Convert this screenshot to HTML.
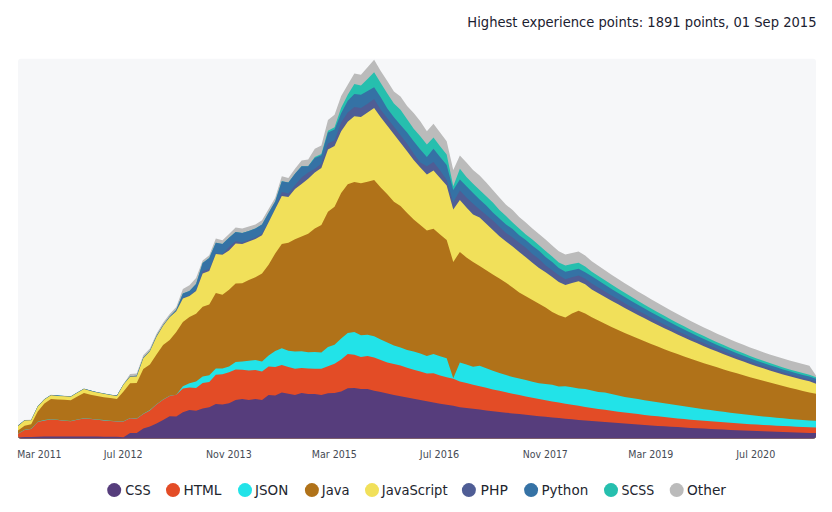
<!DOCTYPE html>
<html><head><meta charset="utf-8"><style>
html,body{margin:0;padding:0;background:#fff;}
svg{display:block;font-family:"DejaVu Sans","Liberation Sans",sans-serif;font-stretch:condensed;}
</style></head><body>
<svg width="832" height="512" viewBox="0 0 832 512">
<defs><clipPath id="c"><rect x="18" y="58.7" width="798" height="379.9" rx="3" ry="3"/></clipPath></defs>
<rect x="18" y="58.7" width="798" height="379.9" rx="3" ry="3" fill="#f6f7f9"/>
<g clip-path="url(#c)">
<polygon points="18.00,440.6 18.00,425.40 24.60,420.00 31.19,419.75 37.79,406.00 44.38,399.00 50.98,394.75 57.57,395.40 64.17,395.75 70.76,396.25 77.36,392.25 83.95,388.50 90.55,390.40 97.14,392.00 103.74,393.25 110.33,394.50 116.93,395.40 123.52,384.00 130.12,373.88 136.71,373.45 143.31,355.25 149.90,348.38 156.50,333.68 163.09,322.75 169.69,314.05 176.28,307.02 182.88,288.93 189.47,285.20 196.07,278.05 202.66,260.50 209.26,255.25 215.85,238.45 222.45,240.32 229.04,234.00 235.64,227.50 242.23,228.40 248.83,226.50 255.42,224.60 262.02,220.25 268.61,209.00 275.21,197.75 281.80,176.25 288.40,178.10 294.99,168.75 301.59,160.60 308.18,159.40 314.78,148.75 321.37,145.60 327.97,120.00 334.56,114.75 341.16,96.00 347.75,84.75 354.35,73.50 360.94,74.75 367.54,67.25 374.13,59.75 380.73,71.00 387.32,81.00 393.92,91.60 400.51,96.60 407.11,106.12 413.70,113.00 420.30,121.25 426.89,131.25 433.49,123.75 440.08,132.50 446.68,141.25 453.27,170.00 459.87,155.60 466.46,162.50 473.06,170.00 479.65,175.60 486.25,182.50 492.84,190.00 499.44,197.50 506.03,204.75 512.63,210.00 519.22,216.90 525.82,222.40 532.41,228.60 539.01,234.10 545.60,239.60 552.20,245.60 558.79,251.20 565.39,254.60 571.98,253.00 578.58,251.40 585.17,255.50 591.77,261.34 598.36,265.85 604.96,270.29 611.55,274.66 618.15,278.95 624.74,283.17 631.34,287.31 637.93,291.38 644.53,295.37 651.12,299.27 657.72,303.10 664.31,306.84 670.91,310.50 677.50,314.07 684.10,317.56 690.69,320.96 697.29,324.27 703.88,327.49 710.48,330.61 717.07,333.65 723.67,336.59 730.26,339.44 736.86,342.19 743.45,344.84 750.05,347.39 756.64,349.84 763.24,352.19 769.83,354.44 776.43,356.58 783.02,358.61 789.62,360.54 796.21,362.37 802.81,364.08 809.40,365.68 816.00,375.60 816.00,440.6" fill="#bbbbbb"/>
<polygon points="18.00,440.6 18.00,425.55 24.60,420.15 31.19,419.90 37.79,406.15 44.38,399.15 50.98,394.90 57.57,395.55 64.17,395.90 70.76,396.40 77.36,392.40 83.95,388.65 90.55,390.55 97.14,392.15 103.74,393.40 110.33,394.65 116.93,395.55 123.52,384.15 130.12,376.27 136.71,375.85 143.31,357.65 149.90,350.77 156.50,336.07 163.09,325.15 169.69,316.40 176.28,309.80 182.88,293.55 189.47,290.90 196.07,283.90 202.66,263.00 209.26,258.00 215.85,242.75 222.45,244.00 229.04,237.75 235.64,232.10 242.23,233.00 248.83,230.90 255.42,228.40 262.02,224.60 268.61,212.75 275.21,201.50 281.80,181.25 288.40,182.50 294.99,173.75 301.59,166.25 308.18,166.25 314.78,156.90 321.37,154.10 327.97,130.70 334.56,127.20 341.16,107.70 347.75,94.75 354.35,84.10 360.94,85.40 367.54,79.10 374.13,72.25 380.73,82.90 387.32,93.50 393.92,103.50 400.51,109.75 407.11,119.25 413.70,128.75 420.30,136.25 426.89,144.40 433.49,137.50 440.08,146.25 446.68,154.40 453.27,186.25 459.87,168.75 466.46,176.90 473.06,183.75 479.65,190.00 486.25,196.25 492.84,202.50 499.44,210.00 506.03,216.12 512.63,222.50 519.22,228.60 525.82,234.50 532.41,239.60 539.01,245.30 545.60,251.10 552.20,256.50 558.79,262.40 565.39,265.50 571.98,264.10 578.58,262.80 585.17,266.50 591.77,271.73 598.36,276.08 604.96,280.37 611.55,284.60 618.15,288.75 624.74,292.84 631.34,296.85 637.93,300.79 644.53,304.67 651.12,308.46 657.72,312.19 664.31,315.83 670.91,319.41 677.50,322.90 684.10,326.31 690.69,329.65 697.29,332.90 703.88,336.07 710.48,339.16 717.07,342.17 723.67,345.09 730.26,347.92 736.86,350.67 743.45,353.33 750.05,355.90 756.64,358.38 763.24,360.77 769.83,363.07 776.43,365.27 783.02,367.38 789.62,369.39 796.21,371.31 802.81,373.12 809.40,374.84 816.00,377.25 816.00,440.6" fill="#26bfae"/>
<polygon points="18.00,440.6 18.00,425.55 24.60,420.15 31.19,419.90 37.79,406.15 44.38,399.15 50.98,394.90 57.57,395.55 64.17,395.90 70.76,396.40 77.36,392.40 83.95,388.65 90.55,390.55 97.14,392.15 103.74,393.40 110.33,394.65 116.93,395.55 123.52,384.15 130.12,376.27 136.71,375.85 143.31,357.65 149.90,350.77 156.50,336.07 163.09,325.15 169.69,316.40 176.28,309.80 182.88,293.55 189.47,290.90 196.07,283.90 202.66,263.00 209.26,258.00 215.85,242.75 222.45,244.00 229.04,237.75 235.64,232.10 242.23,233.00 248.83,230.90 255.42,228.40 262.02,224.60 268.61,212.75 275.21,201.50 281.80,181.25 288.40,182.50 294.99,173.75 301.59,166.25 308.18,166.25 314.78,158.00 321.37,155.30 327.97,132.60 334.56,129.50 341.16,113.20 347.75,100.70 354.35,94.10 360.94,94.75 367.54,91.00 374.13,87.25 380.73,97.25 387.32,108.50 393.92,117.25 400.51,124.88 407.11,132.50 413.70,141.25 420.30,149.40 426.89,156.90 433.49,148.75 440.08,156.90 446.68,165.00 453.27,190.00 459.87,179.40 466.46,186.25 473.06,193.10 479.65,199.40 486.25,205.60 492.84,212.50 499.44,218.45 506.03,224.40 512.63,229.00 519.22,235.30 525.82,240.00 532.41,245.80 539.01,250.80 545.60,256.90 552.20,262.00 558.79,267.90 565.39,271.80 571.98,270.20 578.58,268.80 585.17,272.20 591.77,276.37 598.36,280.62 604.96,284.81 611.55,288.93 618.15,292.98 624.74,296.96 631.34,300.88 637.93,304.72 644.53,308.49 651.12,312.19 657.72,315.82 664.31,319.37 670.91,322.85 677.50,326.25 684.10,329.57 690.69,332.82 697.29,335.98 703.88,339.07 710.48,342.07 717.07,344.99 723.67,347.82 730.26,350.57 736.86,353.24 743.45,355.82 750.05,358.30 756.64,360.70 763.24,363.01 769.83,365.23 776.43,367.36 783.02,369.39 789.62,371.32 796.21,373.17 802.81,374.91 809.40,376.56 816.00,378.75 816.00,440.6" fill="#3572a5"/>
<polygon points="18.00,440.6 18.00,425.80 24.60,420.40 31.19,420.15 37.79,406.40 44.38,399.40 50.98,395.15 57.57,395.80 64.17,396.15 70.76,396.65 77.36,392.65 83.95,388.90 90.55,390.80 97.14,392.40 103.74,393.65 110.33,394.90 116.93,395.80 123.52,384.40 130.12,376.67 136.71,376.25 143.31,358.05 149.90,351.17 156.50,336.47 163.09,325.55 169.69,316.90 176.28,310.40 182.88,298.12 189.47,295.60 196.07,290.20 202.66,271.12 209.26,268.95 215.85,253.50 222.45,254.10 229.04,246.88 235.64,241.25 242.23,242.50 248.83,240.00 255.42,237.50 262.02,233.40 268.61,221.50 275.21,209.00 281.80,192.10 288.40,193.40 294.99,185.25 301.59,177.50 308.18,172.50 314.78,168.75 321.37,163.75 327.97,143.60 334.56,140.50 341.16,122.60 347.75,112.40 354.35,106.90 360.94,108.10 367.54,103.80 374.13,99.10 380.73,109.75 387.32,118.25 393.92,126.75 400.51,135.25 407.11,143.75 413.70,153.75 420.30,162.50 426.89,166.25 433.49,161.90 440.08,170.60 446.68,180.00 453.27,202.50 459.87,190.60 466.46,197.50 473.06,203.75 479.65,209.40 486.25,215.00 492.84,220.60 499.44,226.75 506.03,232.90 512.63,237.60 519.22,242.70 525.82,247.80 532.41,254.00 539.01,259.00 545.60,265.50 552.20,270.20 558.79,275.30 565.39,279.20 571.98,277.25 578.58,275.50 585.17,278.80 591.77,283.41 598.36,287.50 604.96,291.52 611.55,295.47 618.15,299.34 624.74,303.15 631.34,306.88 637.93,310.54 644.53,314.12 651.12,317.64 657.72,321.07 664.31,324.44 670.91,327.73 677.50,330.95 684.10,334.09 690.69,337.16 697.29,340.15 703.88,343.07 710.48,345.92 717.07,348.69 723.67,351.38 730.26,354.00 736.86,356.54 743.45,359.01 750.05,361.40 756.64,363.71 763.24,365.95 769.83,368.11 776.43,370.19 783.02,372.20 789.62,374.13 796.21,375.98 802.81,377.75 809.40,379.45 816.00,381.25 816.00,440.6" fill="#4f5d95"/>
<polygon points="18.00,440.6 18.00,425.90 24.60,420.50 31.19,420.25 37.79,406.50 44.38,399.50 50.98,395.25 57.57,395.90 64.17,396.25 70.76,396.75 77.36,392.75 83.95,389.00 90.55,390.90 97.14,392.50 103.74,393.75 110.33,395.00 116.93,395.90 123.52,384.50 130.12,376.87 136.71,376.45 143.31,358.25 149.90,351.37 156.50,336.67 163.09,325.75 169.69,317.20 176.28,311.20 182.88,298.50 189.47,296.00 196.07,291.00 202.66,273.45 209.26,270.95 215.85,254.10 222.45,254.75 229.04,250.40 235.64,243.43 242.23,244.10 248.83,241.55 255.42,239.00 262.02,235.25 268.61,222.13 275.21,209.02 281.80,195.90 288.40,197.10 294.99,189.00 301.59,183.88 308.18,178.75 314.78,172.50 321.37,168.10 327.97,149.40 334.56,145.90 341.16,131.20 347.75,121.80 354.35,116.20 360.94,116.90 367.54,112.40 374.13,107.90 380.73,117.25 387.32,125.75 393.92,134.25 400.51,142.75 407.11,151.25 413.70,160.00 420.30,167.50 426.89,174.40 433.49,170.60 440.08,178.10 446.68,185.60 453.27,209.40 459.87,200.00 466.46,207.50 473.06,214.40 479.65,217.50 486.25,223.75 492.84,230.00 499.44,236.25 506.03,241.50 512.63,246.60 519.22,252.10 525.82,257.20 532.41,262.80 539.01,267.90 545.60,272.20 552.20,276.90 558.79,281.90 565.39,285.10 571.98,282.90 578.58,281.20 585.17,284.30 591.77,289.53 598.36,293.32 604.96,297.05 611.55,300.74 618.15,304.37 624.74,307.94 631.34,311.46 637.93,314.92 644.53,318.32 651.12,321.66 657.72,324.94 664.31,328.16 670.91,331.32 677.50,334.41 684.10,337.44 690.69,340.40 697.29,343.30 703.88,346.13 710.48,348.89 717.07,351.58 723.67,354.20 730.26,356.75 736.86,359.22 743.45,361.62 750.05,363.95 756.64,366.20 763.24,368.37 769.83,370.47 776.43,372.49 783.02,374.42 789.62,376.28 796.21,378.06 802.81,379.75 809.40,381.35 816.00,383.75 816.00,440.6" fill="#f1e05a"/>
<polygon points="18.00,440.6 18.00,430.55 24.60,425.80 31.19,424.30 37.79,411.60 44.38,403.50 50.98,399.10 57.57,399.50 64.17,399.70 70.76,400.35 77.36,396.60 83.95,393.10 90.55,394.70 97.14,396.00 103.74,397.20 110.33,398.10 116.93,399.10 123.52,391.60 130.12,383.25 136.71,382.90 143.31,368.90 149.90,364.50 156.50,354.50 163.09,345.10 169.69,340.10 176.28,332.00 182.88,322.00 189.47,317.00 196.07,313.80 202.66,306.80 209.26,304.50 215.85,293.10 222.45,294.82 229.04,289.75 235.64,283.50 242.23,283.25 248.83,280.00 255.42,277.25 262.02,273.50 268.61,264.75 275.21,253.50 281.80,243.90 288.40,242.70 294.99,239.17 301.59,236.45 308.18,233.75 314.78,228.50 321.37,224.90 327.97,211.75 334.56,206.75 341.16,193.00 347.75,184.25 354.35,182.00 360.94,183.25 367.54,181.75 374.13,179.90 380.73,187.40 387.32,194.25 393.92,201.75 400.51,206.10 407.11,213.00 413.70,219.60 420.30,225.00 426.89,230.60 433.49,228.75 440.08,234.40 446.68,240.00 453.27,261.90 459.87,251.90 466.46,257.50 473.06,261.90 479.65,266.07 486.25,270.24 492.84,274.41 499.44,278.58 506.03,282.75 512.63,287.50 519.22,292.50 525.82,296.25 532.41,300.00 539.01,303.75 545.60,307.50 552.20,311.90 558.79,315.20 565.39,317.50 571.98,313.50 578.58,310.75 585.17,313.50 591.77,317.34 598.36,320.62 604.96,323.81 611.55,326.92 618.15,329.95 624.74,332.91 631.34,335.79 637.93,338.60 644.53,341.34 651.12,344.01 657.72,346.61 664.31,349.15 670.91,351.63 677.50,354.05 684.10,356.40 690.69,358.70 697.29,360.95 703.88,363.14 710.48,365.28 717.07,367.37 723.67,369.41 730.26,371.41 736.86,373.36 743.45,375.27 750.05,377.14 756.64,378.97 763.24,380.77 769.83,382.53 776.43,384.26 783.02,385.96 789.62,387.63 796.21,389.27 802.81,390.89 809.40,392.48 816.00,393.75 816.00,440.6" fill="#b07219"/>
<polygon points="18.00,440.6 18.00,433.45 24.60,429.70 31.19,428.80 37.79,421.70 44.38,420.10 50.98,419.20 57.57,419.70 64.17,420.45 70.76,420.95 77.36,419.45 83.95,418.20 90.55,418.80 97.14,419.45 103.74,420.10 110.33,420.70 116.93,421.30 123.52,421.30 130.12,417.95 136.71,418.45 143.31,413.80 149.90,410.10 156.50,404.20 163.09,399.45 169.69,395.70 176.28,394.75 182.88,386.25 189.47,383.25 196.07,381.60 202.66,376.60 209.26,375.30 215.85,368.40 222.45,368.50 229.04,366.60 235.64,362.00 242.23,361.60 248.83,360.75 255.42,360.00 262.02,361.60 268.61,355.40 275.21,351.00 281.80,348.25 288.40,350.75 294.99,351.60 301.59,351.25 308.18,352.25 314.78,352.10 321.37,352.50 327.97,346.90 334.56,344.75 341.16,338.50 347.75,333.10 354.35,332.10 360.94,335.25 367.54,334.75 374.13,336.25 380.73,339.40 387.32,342.50 393.92,345.60 400.51,347.50 407.11,350.00 413.70,351.43 420.30,353.50 426.89,356.00 433.49,354.10 440.08,356.25 446.68,358.25 453.27,378.25 459.87,362.60 466.46,364.50 473.06,366.75 479.65,365.75 486.25,368.25 492.84,370.75 499.44,373.00 506.03,375.10 512.63,377.00 519.22,378.50 525.82,380.10 532.41,381.75 539.01,383.25 545.60,383.90 552.20,384.75 558.79,386.50 565.39,386.25 571.98,387.25 578.58,388.50 585.17,389.00 591.77,390.60 598.36,391.90 604.96,392.50 611.55,394.00 618.15,395.60 624.74,396.89 631.34,397.98 637.93,399.07 644.53,400.14 651.12,401.20 657.72,402.25 664.31,403.28 670.91,404.30 677.50,405.30 684.10,406.29 690.69,407.26 697.29,408.20 703.88,409.13 710.48,410.04 717.07,410.93 723.67,411.79 730.26,412.63 736.86,413.44 743.45,414.23 750.05,414.98 756.64,415.71 763.24,416.41 769.83,417.08 776.43,417.72 783.02,418.33 789.62,418.90 796.21,419.44 802.81,419.94 809.40,420.40 816.00,420.83 816.00,440.6" fill="#22e3e8"/>
<polygon points="18.00,440.6 18.00,433.75 24.60,430.00 31.19,429.10 37.79,422.00 44.38,420.40 50.98,419.50 57.57,420.00 64.17,420.75 70.76,421.25 77.36,419.75 83.95,418.50 90.55,419.10 97.14,419.75 103.74,420.40 110.33,421.00 116.93,421.60 123.52,421.60 130.12,418.25 136.71,418.75 143.31,414.10 149.90,410.40 156.50,404.50 163.09,399.75 169.69,396.00 176.28,394.75 182.88,388.50 189.47,387.50 196.07,388.10 202.66,382.90 209.26,382.00 215.85,374.87 222.45,374.20 229.04,372.25 235.64,369.50 242.23,369.75 248.83,370.40 255.42,370.00 262.02,371.60 268.61,366.60 275.21,367.00 281.80,365.00 288.40,367.00 294.99,368.75 301.59,367.90 308.18,368.50 314.78,368.75 321.37,368.75 327.97,366.25 334.56,363.75 341.16,359.40 347.75,354.00 354.35,354.75 360.94,356.90 367.54,356.00 374.13,357.50 380.73,360.00 387.32,362.50 393.92,364.00 400.51,365.60 407.11,367.75 413.70,369.75 420.30,371.60 426.89,373.50 433.49,373.25 440.08,375.40 446.68,377.25 453.27,378.75 459.87,381.40 466.46,383.08 473.06,384.71 479.65,386.31 486.25,387.87 492.84,389.39 499.44,390.87 506.03,392.31 512.63,393.72 519.22,395.09 525.82,396.43 532.41,397.73 539.01,398.99 545.60,400.22 552.20,401.42 558.79,402.58 565.39,403.71 571.98,404.81 578.58,405.87 585.17,406.91 591.77,407.91 598.36,408.88 604.96,409.83 611.55,410.74 618.15,411.63 624.74,412.49 631.34,413.32 637.93,414.12 644.53,414.90 651.12,415.65 657.72,416.37 664.31,417.07 670.91,417.75 677.50,418.40 684.10,419.03 690.69,419.63 697.29,420.22 703.88,420.78 710.48,421.32 717.07,421.84 723.67,422.34 730.26,422.82 736.86,423.28 743.45,423.72 750.05,424.15 756.64,424.55 763.24,424.94 769.83,425.31 776.43,425.67 783.02,426.01 789.62,426.34 796.21,426.65 802.81,426.95 809.40,427.23 816.00,427.50 816.00,440.6" fill="#e34c26"/>
<polygon points="18.00,440.6 18.00,437.50 24.60,437.10 31.19,436.90 37.79,436.80 44.38,436.60 50.98,436.50 57.57,436.50 64.17,436.50 70.76,436.50 77.36,436.50 83.95,436.50 90.55,436.60 97.14,436.60 103.74,436.70 110.33,436.80 116.93,436.85 123.52,437.25 130.12,432.90 136.71,433.10 143.31,428.50 149.90,426.60 156.50,423.50 163.09,420.00 169.69,416.25 176.28,416.60 182.88,412.25 189.47,410.00 196.07,410.75 202.66,408.50 209.26,407.25 215.85,404.10 222.45,404.62 229.04,403.25 235.64,400.00 242.23,399.10 248.83,400.00 255.42,399.10 262.02,400.00 268.61,395.00 275.21,395.40 281.80,392.50 288.40,393.75 294.99,395.00 301.59,392.90 308.18,394.10 314.78,394.10 321.37,395.00 327.97,393.25 334.56,392.90 341.16,391.60 347.75,388.25 354.35,387.90 360.94,389.10 367.54,389.10 374.13,390.75 380.73,392.00 387.32,393.50 393.92,395.00 400.51,396.25 407.11,397.50 413.70,398.75 420.30,400.03 426.89,401.31 433.49,402.58 440.08,403.66 446.68,404.74 453.27,405.82 459.87,407.15 466.46,407.98 473.06,408.80 479.65,409.61 486.25,410.40 492.84,411.17 499.44,411.93 506.03,412.67 512.63,413.40 519.22,414.11 525.82,414.81 532.41,415.49 539.01,416.16 545.60,416.82 552.20,417.46 558.79,418.08 565.39,418.70 571.98,419.29 578.58,419.88 585.17,420.45 591.77,421.01 598.36,421.56 604.96,422.09 611.55,422.61 618.15,423.11 624.74,423.61 631.34,424.09 637.93,424.56 644.53,425.02 651.12,425.46 657.72,425.89 664.31,426.32 670.91,426.73 677.50,427.12 684.10,427.51 690.69,427.89 697.29,428.25 703.88,428.61 710.48,428.95 717.07,429.28 723.67,429.60 730.26,429.92 736.86,430.22 743.45,430.51 750.05,430.79 756.64,431.06 763.24,431.33 769.83,431.58 776.43,431.82 783.02,432.06 789.62,432.29 796.21,432.50 802.81,432.71 809.40,432.91 816.00,433.10 816.00,440.6" fill="#563d7c"/>
</g>
<text x="467.3" y="26.9" font-size="14.58" fill="#1b2130" textLength="349.2" lengthAdjust="spacingAndGlyphs">Highest experience points: 1891 points, 01 Sep 2015</text>
<text x="17.30" y="457.8" font-size="10" fill="#454a54" textLength="44.20" lengthAdjust="spacingAndGlyphs">Mar 2011</text>
<text x="103.80" y="457.8" font-size="10" fill="#454a54" textLength="38.75" lengthAdjust="spacingAndGlyphs">Jul 2012</text>
<text x="206.00" y="457.8" font-size="10" fill="#454a54" textLength="45.70" lengthAdjust="spacingAndGlyphs">Nov 2013</text>
<text x="311.80" y="457.8" font-size="10" fill="#454a54" textLength="45.10" lengthAdjust="spacingAndGlyphs">Mar 2015</text>
<text x="419.80" y="457.8" font-size="10" fill="#454a54" textLength="39.50" lengthAdjust="spacingAndGlyphs">Jul 2016</text>
<text x="522.80" y="457.8" font-size="10" fill="#454a54" textLength="45.00" lengthAdjust="spacingAndGlyphs">Nov 2017</text>
<text x="628.30" y="457.8" font-size="10" fill="#454a54" textLength="45.00" lengthAdjust="spacingAndGlyphs">Mar 2019</text>
<text x="736.30" y="457.8" font-size="10" fill="#454a54" textLength="39.00" lengthAdjust="spacingAndGlyphs">Jul 2020</text>
<circle cx="114.2" cy="490.1" r="7" fill="#563d7c"/>
<text x="125.30" y="495.2" font-size="14" fill="#22252e" textLength="25.30" lengthAdjust="spacingAndGlyphs">CSS</text>
<circle cx="173" cy="490.1" r="7" fill="#e34c26"/>
<text x="183.40" y="495.2" font-size="14" fill="#22252e" textLength="38.10" lengthAdjust="spacingAndGlyphs">HTML</text>
<circle cx="245" cy="490.1" r="7" fill="#22e3e8"/>
<text x="255.10" y="495.2" font-size="14" fill="#22252e" textLength="33.20" lengthAdjust="spacingAndGlyphs">JSON</text>
<circle cx="311.9" cy="490.1" r="7" fill="#b07219"/>
<text x="321.80" y="495.2" font-size="14" fill="#22252e" textLength="27.70" lengthAdjust="spacingAndGlyphs">Java</text>
<circle cx="372" cy="490.1" r="7" fill="#f1e05a"/>
<text x="381.80" y="495.2" font-size="14" fill="#22252e" textLength="65.80" lengthAdjust="spacingAndGlyphs">JavaScript</text>
<circle cx="468.9" cy="490.1" r="7" fill="#4f5d95"/>
<text x="480.50" y="495.2" font-size="14" fill="#22252e" textLength="27.30" lengthAdjust="spacingAndGlyphs">PHP</text>
<circle cx="531.1" cy="490.1" r="7" fill="#3572a5"/>
<text x="541.50" y="495.2" font-size="14" fill="#22252e" textLength="46.70" lengthAdjust="spacingAndGlyphs">Python</text>
<circle cx="611" cy="490.1" r="7" fill="#26bfae"/>
<text x="621.50" y="495.2" font-size="14" fill="#22252e" textLength="32.60" lengthAdjust="spacingAndGlyphs">SCSS</text>
<circle cx="676.7" cy="490.1" r="7" fill="#bbbbbb"/>
<text x="687.10" y="495.2" font-size="14" fill="#22252e" textLength="38.90" lengthAdjust="spacingAndGlyphs">Other</text>
</svg>
</body></html>
